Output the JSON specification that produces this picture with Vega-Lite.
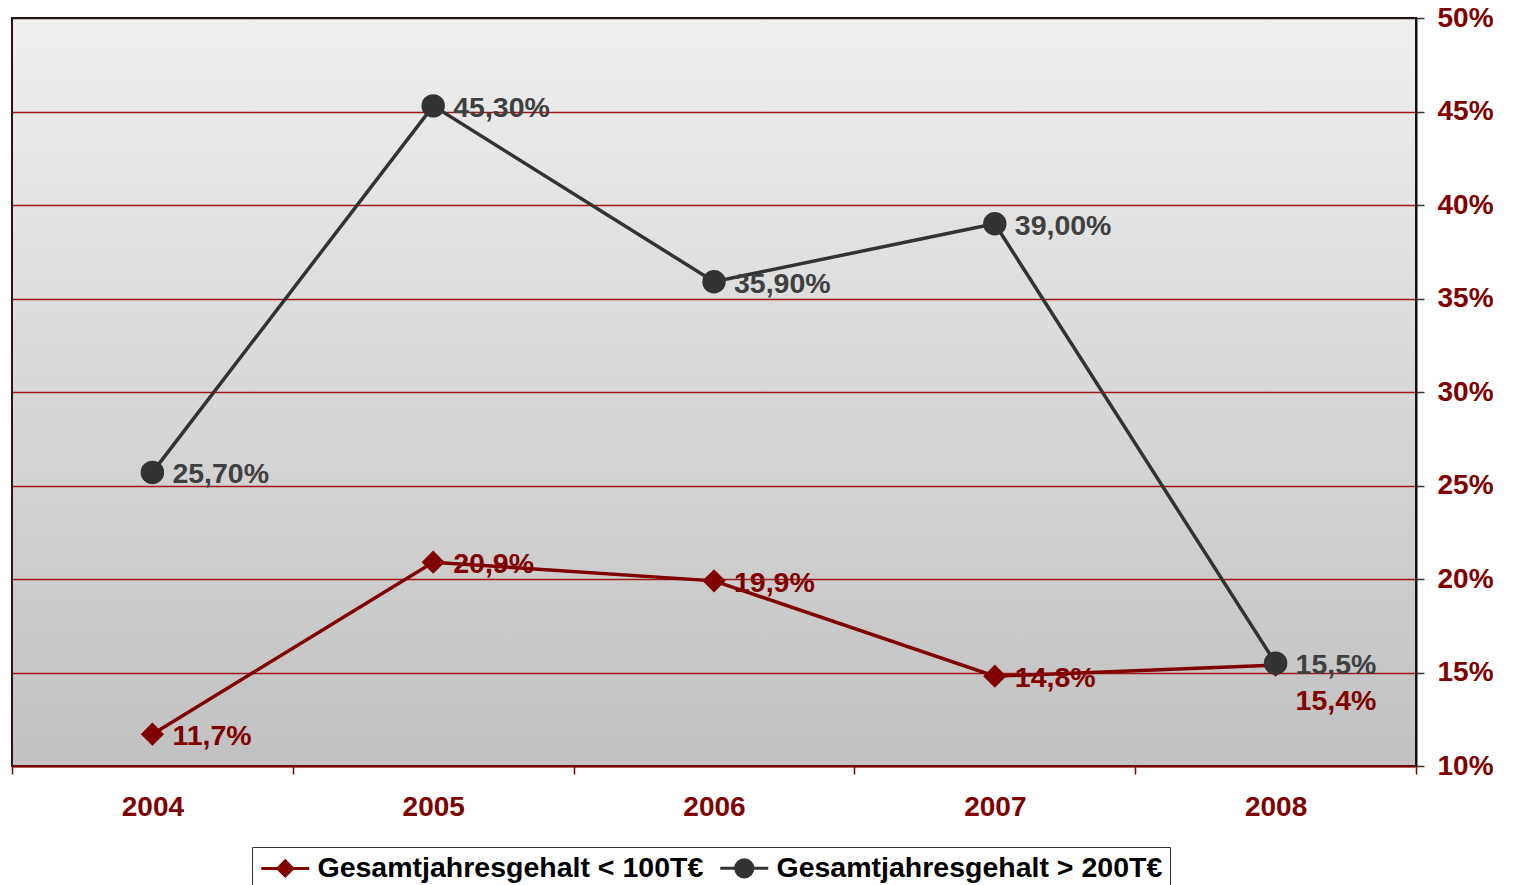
{
  "$schema": "https://vega.github.io/schema/vega-lite/v6.json",
  "width": 1404,
  "height": 748,
  "padding": {"left": 11, "top": 4, "right": 0, "bottom": 0},
  "autosize": {"type": "pad"},
  "background": "white",
  "config": {
    "font": "Liberation Sans",
    "view": {
      "fill": {
        "gradient": "linear",
        "x1": 0, "y1": 0, "x2": 0, "y2": 1,
        "stops": [
          {"offset": 0, "color": "#efefef"},
          {"offset": 1, "color": "#c1c1c1"}
        ]
      },
      "stroke": "#2a1414",
      "strokeWidth": 2
    }
  },
  "data": {
    "values": [
      {"year": "2004", "series": "Gesamtjahresgehalt < 100T€", "value": 11.7, "label": "11,7%"},
      {"year": "2005", "series": "Gesamtjahresgehalt < 100T€", "value": 20.9, "label": "20,9%"},
      {"year": "2006", "series": "Gesamtjahresgehalt < 100T€", "value": 19.9, "label": "19,9%"},
      {"year": "2007", "series": "Gesamtjahresgehalt < 100T€", "value": 14.8, "label": "14,8%"},
      {"year": "2008", "series": "Gesamtjahresgehalt < 100T€", "value": 15.4, "label": "15,4%"},
      {"year": "2004", "series": "Gesamtjahresgehalt > 200T€", "value": 25.7, "label": "25,70%"},
      {"year": "2005", "series": "Gesamtjahresgehalt > 200T€", "value": 45.3, "label": "45,30%"},
      {"year": "2006", "series": "Gesamtjahresgehalt > 200T€", "value": 35.9, "label": "35,90%"},
      {"year": "2007", "series": "Gesamtjahresgehalt > 200T€", "value": 39.0, "label": "39,00%"},
      {"year": "2008", "series": "Gesamtjahresgehalt > 200T€", "value": 15.5, "label": "15,5%"}
    ]
  },
  "encoding": {
    "x": {
      "field": "year",
      "type": "ordinal",
      "scale": {"paddingInner": 0, "paddingOuter": 0},
      "axis": {
        "title": null,
        "labelAngle": 0,
        "labelFont": "Liberation Sans",
        "labelFontWeight": "bold",
        "labelFontSize": 28,
        "labelColor": "#800000",
        "labelPadding": 19,
        "tickBand": "extent",
        "tickColor": "#800000",
        "tickSize": 8,
        "tickWidth": 1.5,
        "domainColor": "#800000",
        "domainWidth": 2
      }
    },
    "y": {
      "field": "value",
      "type": "quantitative",
      "scale": {"domain": [10, 50], "nice": false, "zero": false},
      "axis": {
        "orient": "right",
        "title": null,
        "values": [10, 15, 20, 25, 30, 35, 40, 45, 50],
        "labelExpr": "datum.value + '%'",
        "labelFont": "Liberation Sans",
        "labelFontWeight": "bold",
        "labelFontSize": 28,
        "labelColor": "#800000",
        "labelPadding": 13,
        "tickColor": "#333333",
        "tickSize": 8,
        "tickWidth": 1.5,
        "domainColor": "#111111",
        "domainWidth": 2,
        "grid": true,
        "gridColor": {
          "condition": {"test": "datum.value === 50", "value": "#2a1414"},
          "value": "#a01818"
        },
        "gridWidth": 1.5
      }
    }
  },
  "layer": [
    {
      "mark": {"type": "line", "strokeWidth": 3.5},
      "encoding": {
        "color": {
          "field": "series",
          "type": "nominal",
          "scale": {
            "domain": ["Gesamtjahresgehalt < 100T€", "Gesamtjahresgehalt > 200T€"],
            "range": ["#800000", "#333333"]
          },
          "legend": {
            "title": null,
            "orient": "none",
            "legendX": 240,
            "legendY": 829,
            "direction": "horizontal",
            "strokeColor": "#333333",
            "fillColor": "white",
            "padding": 7,
            "columnPadding": 10,
            "symbolOffset": 12,
            "labelOffset": 18,
            "labelFont": "Liberation Sans",
            "labelFontWeight": "bold",
            "labelFontSize": 28.5,
            "labelColor": "#000000",
            "labelLimit": 600,
            "symbolSize": 576,
            "symbolStrokeWidth": 3,
            "encode": {
              "symbols": {
                "update": {
                  "shape": {"signal": "datum.value === 'Gesamtjahresgehalt < 100T€' ? 'M-2,0H2M0,-0.62L0.62,0L0,0.62L-0.62,0Z' : 'M-2,0H2M-0.72,0A0.72,0.72 0 1,1 0.72,0A0.72,0.72 0 1,1 -0.72,0Z'"},
                  "stroke": {"signal": "datum.value === 'Gesamtjahresgehalt < 100T€' ? '#800000' : '#333333'"},
                  "fill": {"signal": "datum.value === 'Gesamtjahresgehalt < 100T€' ? '#800000' : '#333333'"},
                  "strokeWidth": {"value": 3},
                  "opacity": {"value": 1}
                }
              }
            }
          }
        }
      }
    },
    {
      "mark": {"type": "point", "filled": true, "opacity": 1},
      "encoding": {
        "color": {
          "field": "series",
          "type": "nominal",
          "scale": {
            "domain": ["Gesamtjahresgehalt < 100T€", "Gesamtjahresgehalt > 200T€"],
            "range": ["#800000", "#333333"]
          }
        },
        "shape": {
          "condition": {"test": "datum.series === 'Gesamtjahresgehalt < 100T€'", "value": "diamond"},
          "value": "circle"
        },
        "size": {
          "condition": {"test": "datum.series === 'Gesamtjahresgehalt < 100T€'", "value": 540},
          "value": 550
        }
      }
    },
    {
      "transform": [
        {"filter": "!(datum.year === '2008' && datum.series === 'Gesamtjahresgehalt < 100T€')"}
      ],
      "mark": {
        "type": "text",
        "align": "left",
        "baseline": "middle",
        "dx": 20,
        "dy": 2,
        "font": "Liberation Sans",
        "fontWeight": "bold",
        "fontSize": 28.5
      },
      "encoding": {
        "text": {"field": "label"},
        "color": {
          "condition": {"test": "datum.series === 'Gesamtjahresgehalt < 100T€'", "value": "#800000"},
          "value": "#404040"
        }
      }
    },
    {
      "transform": [
        {"filter": "datum.year === '2008' && datum.series === 'Gesamtjahresgehalt < 100T€'"}
      ],
      "mark": {
        "type": "text",
        "align": "left",
        "baseline": "middle",
        "dx": 20,
        "dy": 36,
        "font": "Liberation Sans",
        "fontWeight": "bold",
        "fontSize": 28.5
      },
      "encoding": {
        "text": {"field": "label"},
        "color": {"value": "#800000"}
      }
    }
  ]
}
